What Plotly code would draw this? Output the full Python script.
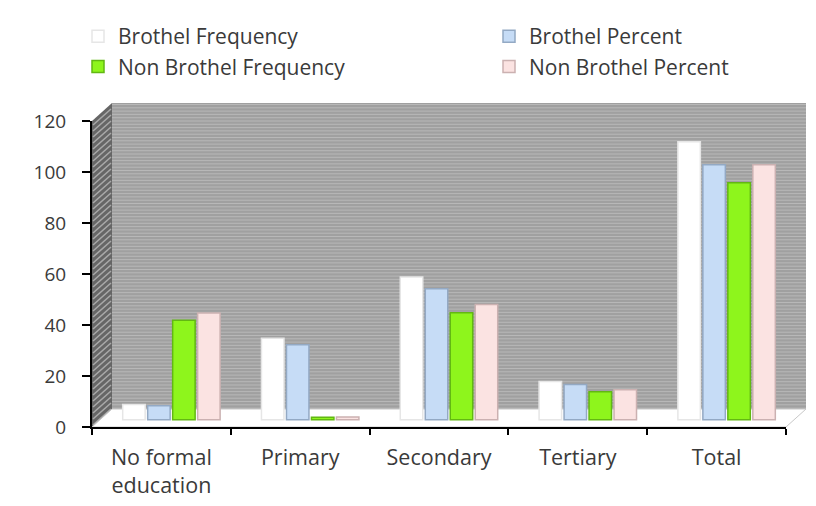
import plotly.graph_objects as go

# Education level of respondents: frequencies and percentages
categories = ["No formal<br>education", "Primary", "Secondary", "Tertiary", "Total"]
brothel_freq = [6, 32, 56, 15, 109]
brothel_pct = [5.5, 29.4, 51.4, 13.8, 100]
non_brothel_freq = [39, 1, 42, 11, 93]
non_brothel_pct = [41.9, 1.1, 45.2, 11.8, 100]
y_ticks = [0, 20, 40, 60, 80, 100, 120]

W, H = 816, 506
L, R, T, B = 92, 786, 121, 427          # plot area in pixels
PW, PH = R - L, B - T
DX, DY = 20, 18                         # depth of the 3-D box in pixels


def px(x):
    return (x - L) / PW


def py(y):
    return (B - y) / PH


FONT = "Open Sans"
TXT = "#3a3a3a"

fig = go.Figure()

# empty trace so the front axes are drawn
fig.add_trace(go.Scatter(x=categories, y=[None] * len(categories),
                         showlegend=False, hoverinfo="skip"))

series = [
    ("Brothel Frequency", brothel_freq, "#ffffff", "#e6e6e6", "legend"),
    ("Brothel Percent", brothel_pct, "#c6dcf6", "#93a9c4", "legend2"),
    ("Non Brothel Frequency", non_brothel_freq, "#8ef51c", "#62b812", "legend"),
    ("Non Brothel Percent", non_brothel_pct, "#fbe3e2", "#cbb1b1", "legend2"),
]
for name, vals, fill, edge, lg in series:
    fig.add_trace(go.Bar(
        name=name, x=categories, y=vals,
        marker=dict(color=fill, line=dict(color=edge, width=1.5)),
        xaxis="x2", yaxis="y2", legend=lg,
    ))

shapes = []
# back wall
shapes.append(dict(type="rect", xref="paper", yref="paper",
                   x0=px(L + DX), x1=px(R + DX), y0=py(B - DY), y1=py(T - DY),
                   fillcolor="#a0a0a0", line=dict(width=0), layer="below"))
# horizontal texture of the back wall
y = T - DY + 1.5
while y < B - DY:
    shapes.append(dict(type="line", xref="paper", yref="paper",
                       x0=px(L + DX), x1=px(R + DX), y0=py(y), y1=py(y),
                       line=dict(color="#b8b8b8", width=1), layer="below"))
    y += 3.3
# side wall
shapes.append(dict(type="path", xref="paper", yref="paper",
                   path=f"M{px(L)},{py(T)} L{px(L + DX)},{py(T - DY)} "
                        f"L{px(L + DX)},{py(B - DY)} L{px(L)},{py(B)} Z",
                   fillcolor="#666666", line=dict(width=0), layer="below"))
# hatching on the side wall
segs = []
y = T + 4
while y < B:
    segs.append(f"M{px(L + 1)},{py(y)} L{px(L + DX - 1)},{py(y - DY + 2)}")
    y += 6
shapes.append(dict(type="path", xref="paper", yref="paper", path=" ".join(segs),
                   line=dict(color="#a8a8a8", width=1.6), layer="below"))
# floor
shapes.append(dict(type="path", xref="paper", yref="paper",
                   path=f"M{px(L)},{py(B)} L{px(L + DX)},{py(B - DY)} "
                        f"L{px(R + DX)},{py(B - DY)} L{px(R)},{py(B)} Z",
                   fillcolor="#ffffff", line=dict(color="#c8c8c8", width=1),
                   layer="below"))

# shift of the bar layer into the middle of the box depth
sx = (DX / 2) / (PW / len(categories))
sy = (DY * 0.4) / (PH / 120)

fig.update_layout(
    width=W, height=H,
    margin=dict(l=L, r=W - R, t=T, b=H - B),
    paper_bgcolor="white", plot_bgcolor="rgba(0,0,0,0)",
    barmode="group", bargap=0.28, bargroupgap=0.1,
    font=dict(family=FONT, size=20, color=TXT),
    shapes=shapes,
    xaxis=dict(type="category", categoryorder="array", categoryarray=categories,
               range=[-0.5, len(categories) - 0.5], automargin=False,
               showline=True, linecolor="black", linewidth=2,
               ticks="outside", tickson="boundaries", ticklen=6, tickwidth=2,
               tickcolor="black", showgrid=False, zeroline=False,
               ticklabelstandoff=10,
               tickfont=dict(size=21.5, color=TXT, family=FONT)),
    yaxis=dict(range=[0, 120], tickvals=y_ticks, automargin=False,
               showline=True, linecolor="black", linewidth=2,
               ticks="outside", ticklen=8, tickwidth=2, tickcolor="black",
               showgrid=False, zeroline=False, ticklabelstandoff=12,
               tickfont=dict(size=19, color=TXT, family=FONT)),
    xaxis2=dict(type="category", categoryorder="array", categoryarray=categories,
                overlaying="x", range=[-0.5 - sx, len(categories) - 0.5 - sx],
                visible=False),
    yaxis2=dict(overlaying="y", range=[-sy, 120 - sy], visible=False),
    legend=dict(x=px(78), y=py(16), xanchor="left", yanchor="top",
                orientation="v", bgcolor="rgba(0,0,0,0)",
                font=dict(size=21, color=TXT, family=FONT), tracegroupgap=0),
    legend2=dict(x=px(489), y=py(16), xanchor="left", yanchor="top",
                 orientation="v", bgcolor="rgba(0,0,0,0)",
                 font=dict(size=21, color=TXT, family=FONT), tracegroupgap=0),
)

fig.write_html("out.html")
